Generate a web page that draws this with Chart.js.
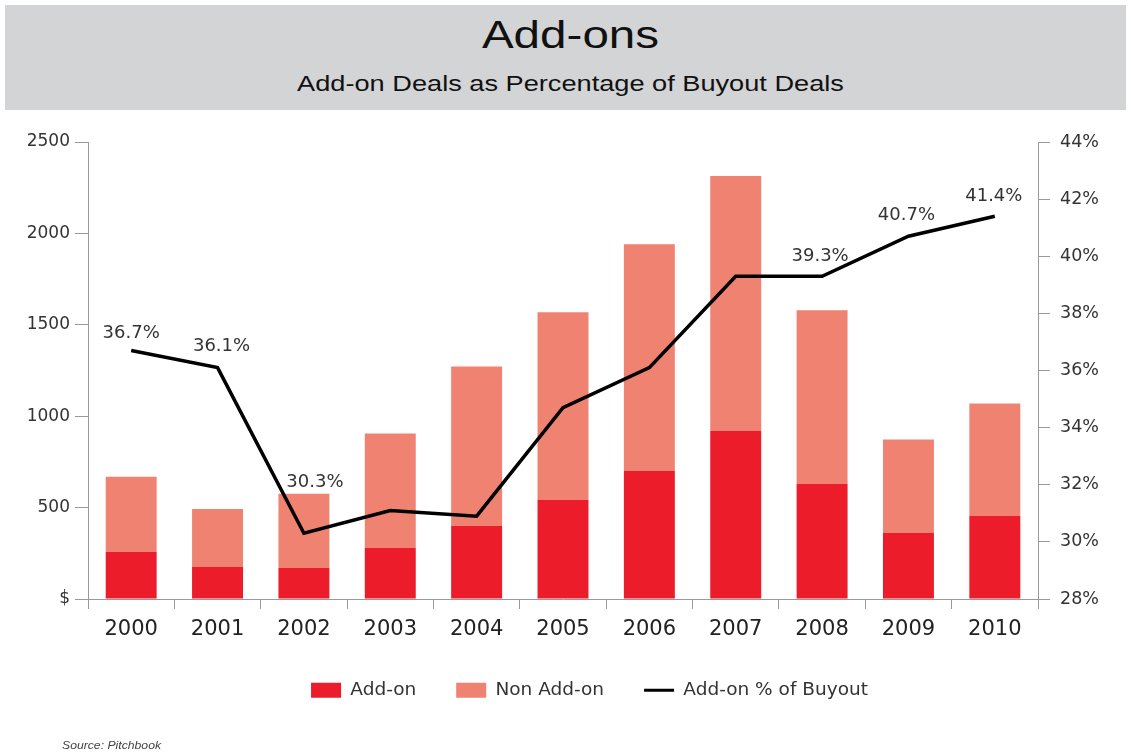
<!DOCTYPE html>
<html>
<head>
<meta charset="utf-8">
<title>Add-ons</title>
<script src="https://cdn.jsdelivr.net/npm/chart.js@4.4.1/dist/chart.umd.min.js"></script>
<style>
  html, body { margin: 0; padding: 0; background: #ffffff; }
  body { width: 1131px; height: 756px; position: relative; overflow: hidden; }
  .band { position: absolute; left: 5px; top: 5px; width: 1121px; height: 105px; background: #d3d4d6; }
  .hd { position: absolute; left: 5px; width: 1131px; text-align: center; color: #111;
        font-family: "Liberation Sans", Arial, sans-serif; transform-origin: 565.5px 0; white-space: nowrap; }
  .title { top: 15px; font-size: 39px; line-height: 39px; transform: scaleX(1.22); }
  .subtitle { top: 73px; font-size: 22px; line-height: 22px; transform: scaleX(1.235); }
  .source { position: absolute; left: 62px; top: 741px; font-family: "Liberation Sans", Arial, sans-serif;
            font-style: italic; font-size: 10px; line-height: 10px; color: #444; transform: scaleX(1.22); transform-origin: 0 0; white-space: nowrap; z-index: 2; }
  .wrap { position: absolute; left: 0; top: 110px; width: 1131px; height: 646px; }
</style>
</head>
<body>
<div class="band"></div>
<div class="hd title">Add-ons</div>
<div class="hd subtitle">Add-on Deals as Percentage of Buyout Deals</div>
<div class="wrap"><canvas id="chart" width="1131" height="646"></canvas></div>
<div class="source">Source: Pitchbook</div>
<script>
// Buyout deal counts by year
const years = ['2000', '2001', '2002', '2003', '2004', '2005', '2006', '2007', '2008', '2009', '2010'];
const addOnDeals    = [258, 175, 170, 280, 400, 543, 702, 921, 630, 362, 455];
const nonAddOnDeals = [411, 318, 406, 625, 872, 1025, 1239, 1393, 949, 510, 614];
const addOnPct      = [36.7, 36.1, 30.3, 31.1, 30.9, 34.7, 36.1, 39.3, 39.3, 40.7, 41.4];

// Left axis ticks (deal counts) and right axis ticks (percent)
const countTicks = [0, 500, 1000, 1500, 2000, 2500];
const pctTicks   = [28, 30, 32, 34, 36, 38, 40, 42, 44];

// Years whose percentage is printed next to the line
const labeledYears = ['2000', '2001', '2002', '2008', '2009', '2010'];

const FONT = '"DejaVu Sans", "Liberation Sans", sans-serif';
const RED = '#ec1c2a';
const SALMON = '#f08272';
const AXIS = '#9a9a9a';

// Label placement around each printed point (pixels)
const labelOffsets = {
  '2000': [0, -17], '2001': [4, -21], '2002': [11, -51],
  '2008': [-2, -20], '2009': [-2, -21], '2010': [-1, -20]
};

const lineLabels = {
  id: 'lineLabels',
  afterDatasetsDraw(chart) {
    const idx = chart.data.datasets.findIndex(d => d.type === 'line');
    const meta = chart.getDatasetMeta(idx);
    const ctx = chart.ctx;
    ctx.save();
    ctx.font = '18px ' + FONT;
    ctx.fillStyle = '#333';
    ctx.textAlign = 'center';
    ctx.textBaseline = 'middle';
    labeledYears.forEach(y => {
      const i = years.indexOf(y);
      const pt = meta.data[i];
      const off = labelOffsets[y] || [0, -20];
      ctx.fillText(addOnPct[i].toFixed(1) + '%', pt.x + off[0], pt.y + off[1]);
    });
    ctx.restore();
  }
};

// Center the legend row under the plot rather than the whole canvas
const legendShift = {
  id: 'legendShift',
  afterLayout(chart) {
    if (chart.legend) {
      chart.legend.left = 48;
      chart.legend.right = chart.width;
    }
  }
};

new Chart(document.getElementById('chart'), {
  data: {
    labels: years,
    datasets: [
      {
        type: 'line', label: 'Add-on % of Buyout', data: addOnPct, yAxisID: 'y1',
        borderColor: '#000', backgroundColor: '#000', borderWidth: 3.5, pointRadius: 0,
        tension: 0, order: 0, borderJoinStyle: 'miter'
      },
      {
        type: 'bar', label: 'Add-on', data: addOnDeals, yAxisID: 'y',
        backgroundColor: RED, borderWidth: 0, order: 1,
        categoryPercentage: 1, barPercentage: 0.59
      },
      {
        type: 'bar', label: 'Non Add-on', data: nonAddOnDeals, yAxisID: 'y',
        backgroundColor: SALMON, borderWidth: 0, order: 1,
        categoryPercentage: 1, barPercentage: 0.59
      }
    ]
  },
  options: {
    responsive: false,
    animation: false,
    layout: { padding: { top: 32, left: 0, right: 0, bottom: 46.5 } },
    plugins: {
      title: { display: false },
      tooltip: { enabled: false },
      legend: {
        position: 'bottom',
        labels: {
          font: { family: FONT, size: 18.5 },
          color: '#333',
          padding: 40,
          usePointStyle: true,
          pointStyleWidth: 30,
          boxHeight: 15,
          sort: (a, b) => {
            const order = ['Add-on', 'Non Add-on', 'Add-on % of Buyout'];
            return order.indexOf(a.text) - order.indexOf(b.text);
          },
          generateLabels(chart) {
            return chart.data.datasets.map((ds, i) => ({
              text: ds.label,
              datasetIndex: i,
              fillStyle: ds.type === 'line' ? '#000' : ds.backgroundColor,
              strokeStyle: ds.type === 'line' ? '#000' : ds.backgroundColor,
              lineWidth: ds.type === 'line' ? 3 : 0,
              pointStyle: ds.type === 'line' ? 'line' : 'rect',
              fontColor: '#333',
              hidden: false
            }));
          }
        }
      }
    },
    scales: {
      x: {
        stacked: true,
        offset: true,
        afterFit(s) { s.height = 42; },
        grid: { display: true, drawOnChartArea: false, offset: true, tickLength: 10, color: AXIS },
        border: { display: true, color: AXIS, width: 1 },
        ticks: { font: { family: FONT, size: 21 }, color: '#222', padding: 8, maxRotation: 0 }
      },
      y: {
        stacked: true,
        position: 'left',
        min: countTicks[0], max: countTicks[countTicks.length - 1],
        afterFit(s) { s.width = 88; },
        afterBuildTicks(s) { s.ticks = countTicks.map(v => ({ value: v })); },
        grid: { display: true, drawOnChartArea: false, tickLength: 13, color: AXIS },
        border: { display: true, color: AXIS, width: 1 },
        ticks: {
          font: { family: FONT, size: 17 }, color: '#333', padding: 5,
          callback: v => (v === 0 ? '$' : String(v))
        }
      },
      y1: {
        position: 'right',
        min: pctTicks[0], max: pctTicks[pctTicks.length - 1],
        afterFit(s) { s.width = 93; },
        afterBuildTicks(s) { s.ticks = pctTicks.map(v => ({ value: v })); },
        grid: { display: true, drawOnChartArea: false, tickLength: 12, color: AXIS },
        border: { display: true, color: AXIS, width: 1 },
        ticks: {
          font: { family: FONT, size: 17.5 }, color: '#333', padding: 10,
          callback: v => v + '%'
        }
      }
    }
  },
  plugins: [lineLabels, legendShift]
});
</script>
</body>
</html>
